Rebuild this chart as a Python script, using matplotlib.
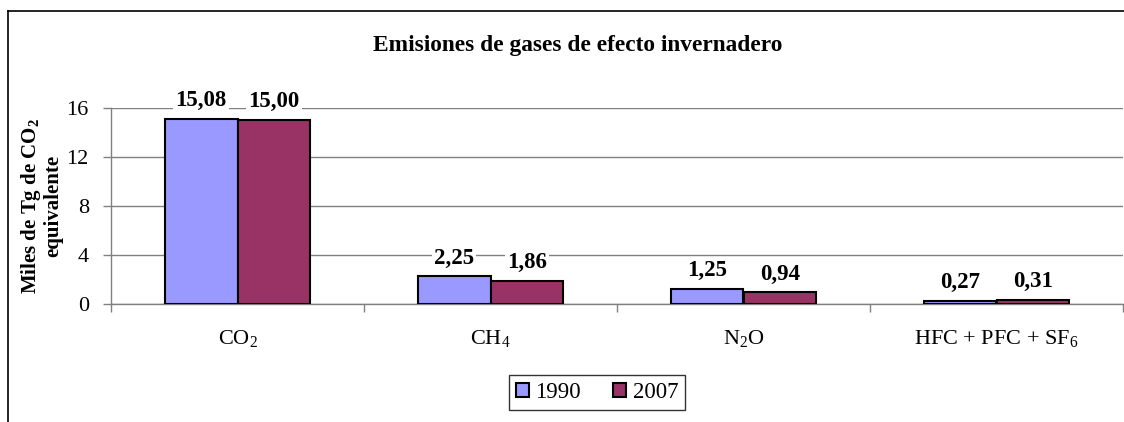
import matplotlib

matplotlib.use("Agg")
import matplotlib.pyplot as plt
import numpy as np
from matplotlib.lines import Line2D
from matplotlib.patches import Patch

plt.rcParams["font.family"] = ["Liberation Serif", "DejaVu Serif"]
plt.rcParams["mathtext.fontset"] = "custom"
plt.rcParams["mathtext.rm"] = "Liberation Serif"
plt.rcParams["mathtext.bf"] = "Liberation Serif:bold"

CATEGORIES = ["CO$_2$", "CH$_4$", "N$_2$O", "HFC + PFC + SF$_6$"]
YEARS = ["1990", "2007"]
VALUES_1990 = [15.08, 2.25, 1.25, 0.27]
VALUES_2007 = [15.00, 1.86, 0.94, 0.31]
COLORS = ["#9999FF", "#993366"]
Y_TICKS = [0, 4, 8, 12, 16]

W, H = 1124, 422
fig = plt.figure(figsize=(W / 100, H / 100), dpi=100)
ax = fig.add_axes([111 / W, 1 - 304 / H, (1123 - 111) / W, (304 - 108) / H])

x = np.arange(len(CATEGORIES))
bw = 0.288
for i, (vals, col) in enumerate(zip([VALUES_1990, VALUES_2007], COLORS)):
    offs = (i - 0.5) * bw
    ax.bar(x + offs, vals, width=bw, color=col, edgecolor="black", linewidth=1.5, zorder=3)
    for xi, v in zip(x + offs, vals):
        ax.text(xi, v + 1.5, f"{v:.2f}".replace(".", ","), ha="center", va="center",
                fontsize=16.5, fontweight="bold", zorder=4,
                bbox=dict(facecolor="white", edgecolor="none", pad=1.5))

ax.set_xlim(-0.5, len(CATEGORIES) - 0.5)
ax.set_ylim(0, 16)
ax.set_yticks(Y_TICKS)
ax.set_yticklabels([str(t) for t in Y_TICKS], fontsize=16)
ax.yaxis.grid(True, color="#808080", linewidth=1.0, zorder=0)
ax.set_axisbelow(True)

ax.set_xticks(np.arange(len(CATEGORIES) + 1) - 0.5)
ax.set_xticklabels([])
ax.tick_params(axis="x", length=6, color="#808080", width=1)
ax.tick_params(axis="y", length=6, color="#808080", width=1, pad=10)
for xi, name in zip(x, CATEGORIES):
    ax.text(xi, -2.9, name, ha="center", va="center", fontsize=16)

for side in ("top", "right"):
    ax.spines[side].set_visible(False)
for side in ("left", "bottom"):
    ax.spines[side].set_color("#808080")
    ax.spines[side].set_linewidth(1.0)

fig.text(41 / W, 1 - 206 / H, "Miles de Tg de CO$_\\mathbf{2}$\nequivalente",
         ha="center", va="center", rotation=90, fontsize=15,
         fontweight="bold", linespacing=1.0)

fig.text(578 / W, 1 - 45 / H, "Emisiones de gases de efecto invernadero",
         ha="center", va="center", fontsize=16.8, fontweight="bold")

handles = [Patch(facecolor=c, edgecolor="black", linewidth=1.5) for c in COLORS]
leg = fig.legend(handles, YEARS, loc="center", bbox_to_anchor=(597 / W, 1 - 392.5 / H),
                 ncol=2, fontsize=16.5, frameon=True, fancybox=False,
                 handlelength=0.55, handleheight=0.55, handletextpad=0.3,
                 columnspacing=1.4, borderpad=0.3)
leg.get_frame().set_edgecolor("black")
leg.get_frame().set_linewidth(1.0)

# outer chart border (only top and left edges are visible in the crop)
fig.add_artist(Line2D([8 / W, 8 / W], [0, 1 - 11 / H], color="black", linewidth=1.2))
fig.add_artist(Line2D([8 / W, 1], [1 - 11 / H, 1 - 11 / H], color="black", linewidth=1.2))

fig.savefig("out.png", dpi=100)
